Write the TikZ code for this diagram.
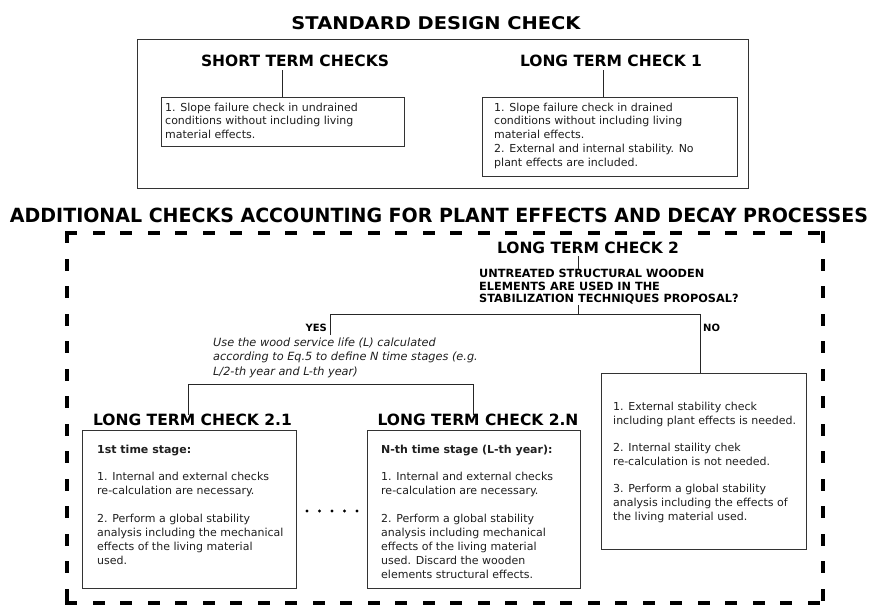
\documentclass[tikz,border=0pt]{standalone}
\usepackage{fontspec}
\usepackage{graphicx}
\setmainfont{DejaVu Sans}
\newfontfamily\condfont{DejaVu Sans Condensed}
\begin{document}
\begin{tikzpicture}[x=1pt,y=-1pt,
  every node/.style={inner sep=0pt},
  hd/.style={font=\bfseries\fontsize{15.5}{18}\selectfont},
  frame/.style={draw=black!80, line width=0.9pt, anchor=north west},
  dashline/.style={draw=black, line width=4pt, line cap=rect, dash pattern=on 8pt off 19.5pt},
  body/.style={anchor=north west, align=left, text=black!88, font=\fontsize{11}{14}\selectfont},
  toptext/.style={anchor=north west, align=left, text=black!88, font=\fontsize{11}{13.8}\selectfont},
  qtext/.style={anchor=north west, align=left, font=\bfseries\fontsize{11.3}{12.5}\selectfont},
  yn/.style={font=\bfseries\fontsize{10}{12}\selectfont},
  note/.style={anchor=north west, align=left, text=black!88, font=\itshape\fontsize{11.3}{14.5}\selectfont},
  link/.style={draw=black!85, line width=0.8pt},
]
\useasboundingbox (0,0) rectangle (882,605);
\fill[white] (0,0) rectangle (882,605);

% ---------- standard design check ----------
\node (title) at (436,23.5) {\resizebox{289pt}{13pt}{\bfseries STANDARD DESIGN CHECK}};
\node[frame, minimum width=611, minimum height=149] (stdframe) at (137,39) {};

\node[hd] (sh) at (295,61) {SHORT TERM CHECKS};
\node[frame, minimum width=243, minimum height=49] (sbox) at (161,97) {};
\node[toptext] (stxt) at (165,102.6) {1. Slope failure check in undrained\\conditions without including living\\material effects.};
\draw[link] (282,70) coordinate (sh1) -- (sh1 |- sbox.north);

\node[hd] (l1) at (611,61) {LONG TERM CHECK 1};
\node[frame, minimum width=255, minimum height=79] (l1box) at (482,97) {};
\node[toptext] (l1txt) at (494,102.6) {1. Slope failure check in drained\\conditions without including living\\material effects.\\2. External and internal stability. No\\plant effects are included.};
\draw[link] (603,70) coordinate (l11) -- (l11 |- l1box.north);

% ---------- additional checks ----------
\node (addt) at (439,215) {\resizebox{858pt}{14.5pt}{\condfont\bfseries ADDITIONAL CHECKS ACCOUNTING FOR PLANT EFFECTS AND DECAY PROCESSES}};
\node[minimum width=756, minimum height=370, anchor=north west] (addframe) at (67,233) {};
\draw[dashline] (addframe.north west) -- (addframe.north east);
\draw[dashline] (addframe.north west) -- (addframe.south west);
\draw[dashline] (addframe.north east) -- (addframe.south east);
\draw[dashline] (addframe.south west) -- (addframe.south east);

\node[hd] (l2) at (588,248) {LONG TERM CHECK 2};
\node[qtext] (q) at (479,269) {UNTREATED STRUCTURAL WOODEN\\ELEMENTS ARE USED IN THE\\STABILIZATION TECHNIQUES PROPOSAL?};

\coordinate (jq) at (578,314);
\coordinate (jy) at (330,314);
\coordinate (jn) at (700,314);
\coordinate (yend) at (330,335);
\draw[link] (l2.south -| jq) ++(0,2) -- (q.north -| jq);
\draw[link] ([yshift=-1pt]q.south -| jq) -- (jq);
\draw[link] (yend) -- (jy) -- (jn);

\node[yn, anchor=east] (yes) at (327,328) {YES};
\node[yn, anchor=west] (no) at (703,328) {NO};

\node[frame, minimum width=205, minimum height=176] (nobox) at (601,373) {};
\draw[link] (jn) -- (jn |- nobox.north);
\node[body] (notxt) at (613,401.6) {1. External stability check\\including plant effects is needed.\\[13pt]2. Internal staility chek\\re-calculation is not needed.\\[13pt]3. Perform a global stability\\analysis including the effects of\\the living material used.};

\node[note] (use) at (213,337.5) {Use the wood service life (L) calculated\\according to Eq.5 to define N time stages (e.g.\\L/2-th year and L-th year)};

\coordinate (b1) at (188,384);
\coordinate (b2) at (473,384);
\draw[link] (b1) -- (b2);

\node[hd] (l21) at (192.5,420) {LONG TERM CHECK 2.1};
\node[hd] (l2n) at (478,420) {LONG TERM CHECK 2.N};
\draw[link] (b1) -- ([yshift=-1pt]b1 |- l21.north);
\draw[link] (b2) -- ([yshift=-1pt]b2 |- l2n.north);

\node[frame, minimum width=214, minimum height=158] (b21) at (82,430) {};
\node[frame, minimum width=213, minimum height=158] (b2n) at (367,430) {};

\node[body] (b21t) at (97,444.6) {\textbf{1st time stage:}\\[13pt]1. Internal and external checks\\re-calculation are necessary.\\[14pt]2. Perform a global stability\\analysis including the mechanical\\effects of the living material\\used.};
\node[body] (b2nt) at (381,444.6) {\textbf{N-th time stage (L-th year):}\\[13pt]1. Internal and external checks\\re-calculation are necessary.\\[14pt]2. Perform a global stability\\analysis including mechanical\\effects of the living material\\used. Discard the wooden\\elements structural effects.};

\foreach \i in {0,...,4} \fill (307+12.5*\i,511) circle (1.7);
\end{tikzpicture}
\end{document}
